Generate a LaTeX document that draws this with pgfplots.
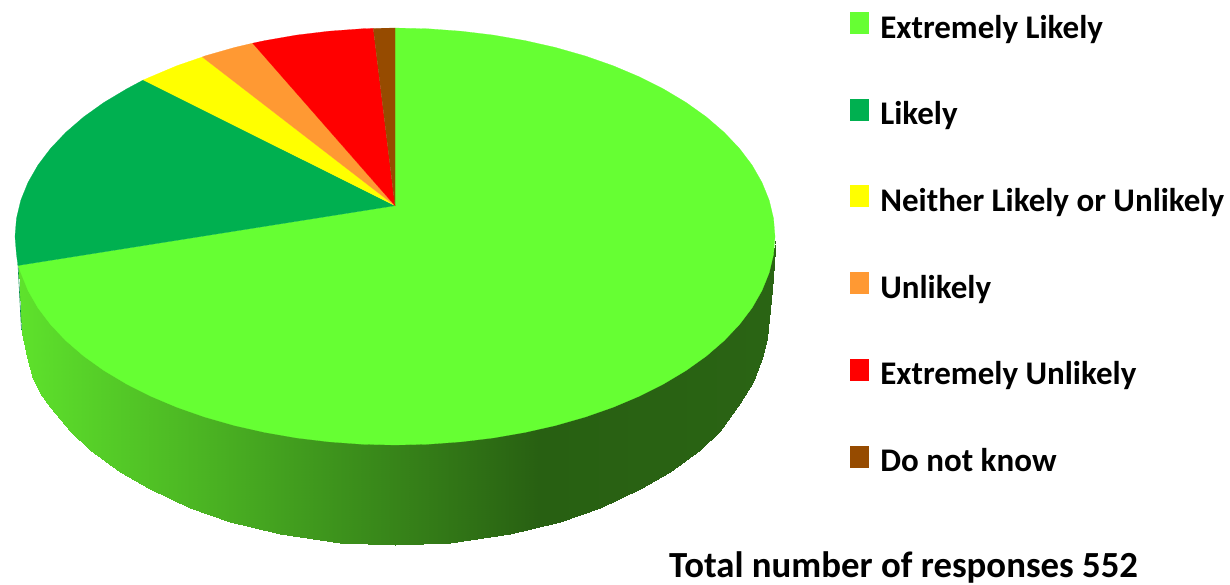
\documentclass[border=0pt]{standalone}
\usepackage{pgfplots}
\pgfplotsset{compat=1.18}
\usepackage{fontspec}
\setmainfont{Carlito}
\definecolor{cEL}{HTML}{66FF33}
\definecolor{cL}{HTML}{00B050}
\definecolor{cN}{HTML}{FFFF00}
\definecolor{cU}{HTML}{FF9933}
\definecolor{cEU}{HTML}{FF0000}
\definecolor{cDK}{HTML}{964B00}
\begin{document}
\begin{tikzpicture}
\useasboundingbox (0,0) rectangle (1230pt,585pt);
\begin{axis}[
  scale only axis, width=1230pt, height=585pt,
  xmin=0, xmax=1230, ymin=0, ymax=585, y dir=reverse,
  hide axis, clip=false,
  colormap={sidegrad}{rgb255(0cm)=(94,226,44); rgb255(5.2cm)=(40,96,18); rgb255(7.56cm)=(42,100,20)},
  point meta min=19, point meta max=775,
  area legend,
  legend image code/.code={\fill[#1] (0pt,-2pt) rectangle (18pt,19pt); \path (30pt,0pt);},
  legend cell align=left,
  legend style={at={(0.691,0.9797)}, anchor=north west, draw=none, fill=none,
    inner sep=0pt, font=\bfseries\fontsize{33}{33}\selectfont,
    row sep=52.6pt, nodes={inner sep=0pt, text height=22pt, text depth=8pt}},
]
% side of the pie
\addplot[forget plot, surf, shader=interp, mesh/rows=2, mesh/cols=34, point meta=x] table {
x y
19 262
22 268
27 282
33 294
40 305
50 318
70 338
90 355
120 374
150 390
190 406
230 418
280 429
340 437
395 439
450 437
510 429
560 418
600 406
640 390
670 374
700 355
720 338
740 318
753 300
762 284
767 273
772 257
775 245
775.1 244
775.2 243
775.3 242
775.4 241
775.5 240
19 268
22 333
27 357
33 379
40 393
50 407
70 431
90 450
120 472
150 489
190 508
230 522
280 534
340 542.5
395 545
450 542.5
510 534
560 522
600 508
640 489
670 472
700 450
720 431
740 403
753 382
762 358
767 338
772 290
775 250
775.1 247
775.2 245
775.3 244
775.4 243
775.5 242
};
\addplot[forget plot, draw=cL!80!black, line width=0.6pt] coordinates {(18,264) (21.5,330)};
% top face
\addplot[fill=cEL, draw=cEL, line width=0.2pt] coordinates {
(395,205.7) (395,28) (428.1,28.8) (461.0,31.2) (493.4,35.1) (525.0,40.6) (555.6,47.5) (585,55.9) (613.0,65.7)
(639.3,76.8) (663.7,89.1) (686.1,102.5) (706.3,116.9) (724.1,132.3) (739.4,148.4) (752.1,165.2) (762.0,182.5)
(769.2,200.3) (773.5,218.3) (775,236.5) (773.5,254.7) (769.2,272.7) (762.0,290.5) (752.1,307.8) (739.4,324.6)
(724.1,340.7) (706.3,356.1) (686.1,370.5) (663.7,383.9) (639.3,396.2) (613.0,407.3) (585,417.1) (555.6,425.5)
(525.0,432.4) (493.4,437.9) (461.0,441.8) (428.1,444.2) (395,445) (361.9,444.2) (329.0,441.8) (296.6,437.9)
(265.0,432.4) (234.4,425.5) (205,417.1) (177.0,407.3) (150.7,396.2) (126.3,383.9) (103.9,370.5) (83.7,356.1)
(65.9,340.7) (50.6,324.6) (37.9,307.8) (28.0,290.5) (20.8,272.7) (18,265.5)
} --cycle;
\addplot[fill=cL, draw=cL, line width=0.2pt] coordinates {
(395,205.7) (18,265.5) (16.5,254.7) (15,236.5) (16.5,218.3) (20.8,200.3) (28,182.5) (37.9,165.2) (50.6,148.4)
(65.9,132.3) (83.7,116.9) (103.9,102.5) (126.3,89.1) (143.3,80)
} --cycle;
\addplot[fill=cN, draw=cN, line width=0.2pt] coordinates {
(395,205.7) (143.3,80) (150.7,76.8) (177,65.7) (202.3,57)
} --cycle;
\addplot[fill=cU, draw=cU, line width=0.2pt] coordinates {
(395,205.7) (202.3,57) (205,55.9) (234.4,47.5) (252.7,43.2)
} --cycle;
\addplot[fill=cEU, draw=cEU, line width=0.2pt] coordinates {
(395,205.7) (252.7,43.2) (265,40.6) (296.6,35.1) (329,31.2) (361.9,28.8) (373.3,28.4)
} --cycle;
\addplot[fill=cDK, draw=cDK, line width=0.2pt] coordinates {
(395,205.7) (373.3,28.4) (395,28)
} --cycle;
\legend{Extremely Likely, Likely, Neither Likely or Unlikely, Unlikely, Extremely Unlikely, Do not know}
\node[anchor=base west, inner sep=0pt, font=\bfseries\fontsize{36.8}{37}\selectfont] at (axis cs:669,577.5) {Total number of responses 552};
\end{axis}
\end{tikzpicture}
\end{document}
